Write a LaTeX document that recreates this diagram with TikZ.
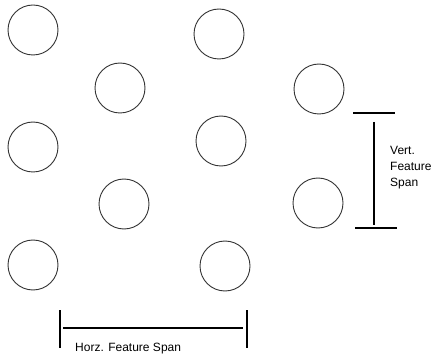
\documentclass[tikz,border=0pt]{standalone}
\usepackage{fontspec}
\setmainfont{Liberation Sans}
\usetikzlibrary{positioning}

\begin{document}
\begin{tikzpicture}[x=1pt,y=-1pt]
\tikzstyle{every node}+=[inner sep=0pt]
\tikzstyle{hole}=[draw=black!80,circle,line width=0.9pt,minimum size=50pt]
\tikzstyle{span}=[black,line width=2pt]
\tikzstyle{label}=[font=\fontsize{12}{16}\selectfont,align=left]
\useasboundingbox (0,0) rectangle (439,358);
% holes
\node [hole] (h1) at (33,30) {};
\node [hole] (h2) at (120,88) {};
\node [hole] (h3) at (33,147) {};
\node [hole] (h4) at (124,204) {};
\node [hole] (h5) at (33,265) {};
\node [hole] (h6) at (219,34) {};
\node [hole] (h7) at (221,141) {};
\node [hole] (h8) at (225,266) {};
\node [hole] (h9) at (319,89) {};
\node [hole] (h10) at (318,203) {};
% vertical span
\coordinate (vt1) at (353,113);
\coordinate (vt2) at (395,113);
\coordinate (vb1) at (355,228);
\coordinate (vb2) at (397,228);
\coordinate (va) at (374,122);
\coordinate (vb) at (374,225);
\draw [span] (vt1) -- (vt2);
\draw [span] (va) -- (vb);
\draw [span] (vb1) -- (vb2);
\node [label,anchor=north west] (vlab) at (390,146) {Vert.\\Feature\\Span};
% horizontal span
\coordinate (hl1) at (60,310);
\coordinate (hl2) at (60,348);
\coordinate (hr1) at (247,310);
\coordinate (hr2) at (247,348);
\coordinate (ha) at (63,328);
\coordinate (hb) at (243,328);
\draw [span] (hl1) -- (hl2);
\draw [span] (ha) -- (hb);
\draw [span] (hr1) -- (hr2);
\node [label,anchor=base west] (hlab) at (75,351) {Horz. Feature Span};
\end{tikzpicture}
\end{document}
